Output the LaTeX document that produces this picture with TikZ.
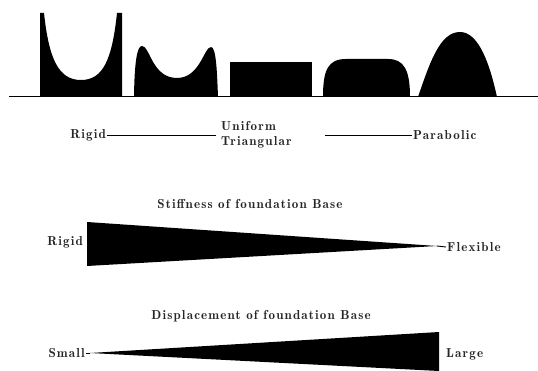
\documentclass[tikz,border=0pt]{standalone}
\usepackage{fontspec}
\newfontfamily\labfont{lmromandemi10-regular.otf}[LetterSpace=9]
\begin{document}
\begin{tikzpicture}[x=1pt,y=-1pt,
  lab/.style={font=\labfont\fontsize{13}{14}\selectfont, inner sep=1pt, text=black!85},
  solid shape/.style={fill=black, draw=none},
  thin rule/.style={draw=black, line width=0.8pt}]
\useasboundingbox (0,0) rectangle (538,371);
% ground line
\coordinate (g0) at (9,97);
\coordinate (g1) at (538,97);
\draw[line width=1pt] (g0) -- (g1);
% pressure distributions
\fill[solid shape] (40,97) -- (40,13) -- (44,13)
  .. controls (49,60) and (59,80) .. (81,80)
  .. controls (103,80) and (112,60) .. (117,13) -- (122,13) -- (122,97) -- cycle;
\fill[solid shape] (134,97) .. controls (134.5,62) and (137,46) .. (142,46)
  .. controls (150,46) and (152,78) .. (177,78)
  .. controls (200,78) and (204,47) .. (211,47)
  .. controls (216,47) and (217,70) .. (218,97) -- cycle;
\fill[solid shape] (230,62) rectangle (312,97);
\fill[solid shape] (323,97) .. controls (323,70) and (328,59) .. (346,59) -- (388,59)
  .. controls (404,59) and (410,70) .. (410,97) -- cycle;
\fill[solid shape] (418,97) .. controls (430,62) and (440,32) .. (460,32)
  .. controls (479,32) and (490,65) .. (497,97) -- cycle;
% label row
\node[lab, anchor=east] (rigidA) at (107,135) {Rigid};
\node[lab, anchor=west, align=left, font=\labfont\fontsize{13}{15}\selectfont] (uniform) at (220,134.5) {Uniform\\Triangular};
\node[lab, anchor=west] (parabolic) at (412,135) {Parabolic};
\coordinate (m1) at (216,135);
\coordinate (m2) at (325,135);
\draw[thin rule] (rigidA.east) -- (m1);
\draw[thin rule] (m2) -- (parabolic.west);
% stiffness
\node[lab] (stiff) at (250,204) {Stiffness of foundation Base};
\node[lab, anchor=east] (rigidB) at (84,242) {Rigid};
\node[lab, anchor=west] (flex) at (446,247) {Flexible};
\coordinate (s1) at (87,222);
\coordinate (s2) at (87,266);
\coordinate (s3) at (437,246);
\fill[solid shape] (s1) -- (s2) -- (s3) -- cycle;
\draw[line width=0.9pt] (s3) -- (flex.west);
% displacement
\node[lab] (disp) at (261,316) {Displacement of foundation Base};
\node[lab, anchor=east] (small) at (86,353) {Small};
\node[lab, anchor=west] (large) at (445,354) {Large};
\coordinate (d1) at (90,353);
\coordinate (d2) at (439,332);
\coordinate (d3) at (439,371);
\fill[solid shape] (d1) -- (d2) -- (d3) -- cycle;
\draw[line width=0.9pt] (small.east) -- (d1);
\end{tikzpicture}
\end{document}
